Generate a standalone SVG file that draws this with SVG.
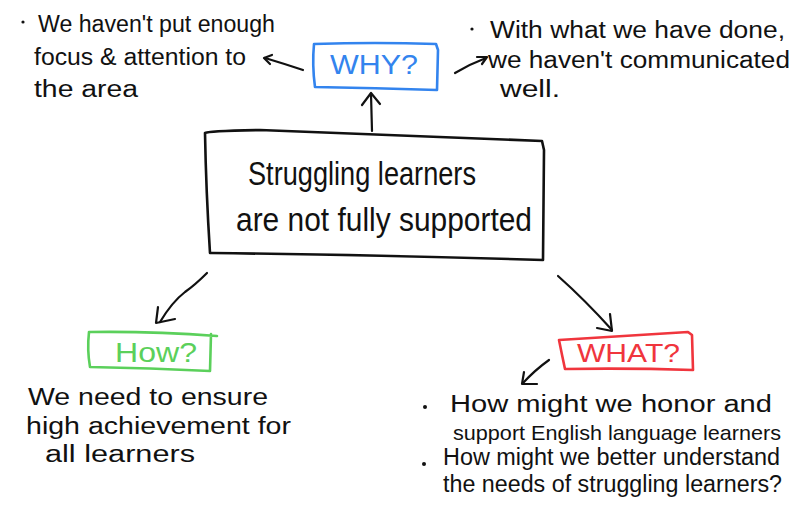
<svg xmlns="http://www.w3.org/2000/svg" width="800" height="511" viewBox="0 0 800 511">
<style>
.t{font-family:"Liberation Sans","DejaVu Sans",sans-serif;fill:#111;font-size:23px}
.big{font-size:33px}
.ln{fill:none;stroke:#111;stroke-width:2.2;stroke-linecap:round;stroke-linejoin:round}
.box{fill:none;stroke-width:2.6;stroke-linecap:round;stroke-linejoin:round}
.blue{stroke:#3384ee}.green{stroke:#5bd05b}.red{stroke:#f0353d}
.dot{fill:#111}
</style>
<rect width="800" height="511" fill="#fff"/>
<g id="connectors">
<path class="ln" d="M372 131 L371 94"/>
<path class="ln" d="M362 105 L371 93 L380 104"/>
<path class="ln" d="M303 70 Q285 64 265 58"/>
<path class="ln" d="M272 55 L264 58 L270 64"/>
<path class="ln" d="M455 73 Q470 64 486 58"/>
<path class="ln" d="M477 57 L487 57 L482 64"/>
<path class="ln" d="M207 273 Q195 285 185 292 Q172 302 160 322"/>
<path class="ln" d="M158 307 L156 323 L175 319"/>
<path class="ln" d="M558 276 Q585 300 612 330"/>
<path class="ln" d="M610 314 L612 331 L597 328"/>
<path class="ln" d="M549 360 Q535 370 523 383"/>
<path class="ln" d="M524 372 L522 384 L537 384"/>
</g>
<g id="why">
<path class="box blue" d="M314 44 Q375 42 436 44 L438 50 L437 90 Q375 88 315 87 Q312 65 314 44 Z"/>
<text x="330" y="74" class="t" style="fill:#3384ee;font-size:27px" textLength="88" lengthAdjust="spacingAndGlyphs">WHY?</text>
</g>
<g id="why-left">
<circle class="dot" cx="23" cy="22" r="1.6"/>
<text x="38" y="32" class="t" textLength="237" lengthAdjust="spacingAndGlyphs">We haven't put enough</text>
<text x="34" y="65" class="t" textLength="212" lengthAdjust="spacingAndGlyphs">focus &amp; attention to</text>
<text x="34" y="97" class="t" textLength="104" lengthAdjust="spacingAndGlyphs">the area</text>
</g>
<g id="why-right">
<circle class="dot" cx="472" cy="29" r="1.6"/>
<text x="490" y="38" class="t" textLength="295" lengthAdjust="spacingAndGlyphs">With what we have done,</text>
<text x="488" y="68" class="t" textLength="302" lengthAdjust="spacingAndGlyphs">we haven't communicated</text>
<text x="500" y="97" class="t" textLength="60" lengthAdjust="spacingAndGlyphs">well.</text>
</g>
<g id="main">
<path class="box" style="stroke:#111" d="M205 133 Q207 131 260 130 Q400 136 542 141 L544 150 L543 260 Q375 255 212 253 L210 253 Q206 190 205 133 Z"/>
<text x="248" y="185" class="t big" textLength="228" lengthAdjust="spacingAndGlyphs">Struggling learners</text>
<text x="236" y="231" class="t big" textLength="296" lengthAdjust="spacingAndGlyphs">are not fully supported</text>
</g>
<g id="how">
<path class="box green" d="M89 332 Q150 331 217 336 M211 334 L210 371 Q150 368 90 367 Q87 350 89 332"/>
<text x="115" y="362" class="t" style="fill:#5bd05b;font-size:27px" textLength="82" lengthAdjust="spacingAndGlyphs">How?</text>
</g>
<g id="how-text">
<text x="28" y="405" class="t" textLength="240" lengthAdjust="spacingAndGlyphs">We need to ensure</text>
<text x="26" y="434" class="t" textLength="265" lengthAdjust="spacingAndGlyphs">high achievement for</text>
<text x="45" y="462" class="t" textLength="150" lengthAdjust="spacingAndGlyphs">all learners</text>
</g>
<g id="what">
<path class="box red" d="M559 340 Q620 336 688 332 L692 335 L693 370 Q630 368 565 369 Q562 355 559 340 Z"/>
<text x="577" y="362" class="t" style="fill:#f0353d;font-size:25px" textLength="103" lengthAdjust="spacingAndGlyphs">WHAT?</text>
</g>
<g id="what-text">
<circle class="dot" cx="425" cy="407" r="2"/>
<text x="450" y="412" class="t" textLength="322" lengthAdjust="spacingAndGlyphs">How might we honor and</text>
<text x="453" y="440" class="t" style="font-size:21px" textLength="328" lengthAdjust="spacingAndGlyphs">support English language learners</text>
<circle class="dot" cx="424" cy="464" r="2"/>
<text x="443" y="465" class="t" textLength="337" lengthAdjust="spacingAndGlyphs">How might we better understand</text>
<text x="443" y="492" class="t" textLength="339" lengthAdjust="spacingAndGlyphs">the needs of struggling learners?</text>
</g>
</svg>
